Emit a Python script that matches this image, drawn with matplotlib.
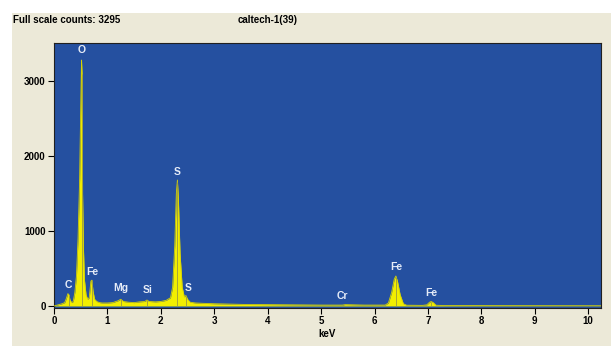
import matplotlib.pyplot as plt
from matplotlib.patches import Rectangle
import numpy as np

# EDS spectrum (keV, counts)
energy = [0.00, 0.05, 0.10, 0.15, 0.20, 0.23, 0.26, 0.28, 0.30, 0.33, 0.36, 0.39,
          0.42, 0.45, 0.48, 0.50, 0.515, 0.525, 0.535, 0.55, 0.57, 0.60, 0.63, 0.66,
          0.69, 0.71, 0.73, 0.76, 0.80, 0.85, 0.90, 1.00, 1.10, 1.20, 1.25, 1.30,
          1.40, 1.50, 1.60, 1.70, 1.74, 1.78, 1.90, 2.00, 2.10, 2.18, 2.22, 2.26,
          2.29, 2.31, 2.33, 2.36, 2.40, 2.44, 2.47, 2.50, 2.55, 2.65, 2.80, 3.00,
          3.30, 3.60, 4.00, 4.50, 5.00, 5.40, 5.45, 5.80, 6.20, 6.26, 6.32, 6.37,
          6.40, 6.43, 6.48, 6.54, 6.60, 6.90, 6.98, 7.03, 7.06, 7.10, 7.15, 7.30,
          8.00, 9.00, 10.24]
counts = [0, 10, 20, 30, 45, 100, 165, 150, 80, 45, 60, 180,
          400, 900, 1700, 2650, 3280, 3100, 1500, 800, 350, 150, 90, 110,
          330, 345, 200, 90, 60, 45, 40, 40, 45, 70, 90, 60,
          50, 45, 55, 60, 80, 60, 55, 60, 75, 110, 250, 800,
          1500, 1680, 1400, 700, 250, 120, 140, 90, 50, 40, 35, 30,
          25, 20, 18, 15, 12, 12, 18, 12, 12, 40, 180, 360,
          400, 330, 150, 30, 10, 8, 15, 50, 60, 45, 10, 6,
          5, 4, 3]

# element labels: name, label x (keV), label y (counts), line energy
labels = ["C", "O", "Fe", "Mg", "Si", "S", "S", "Cr", "Fe", "Fe"]
label_x = [0.27, 0.52, 0.71, 1.25, 1.76, 2.30, 2.51, 5.39, 6.40, 7.06]
label_y = [280, 3413, 453, 240, 213, 1787, 240, 133, 520, 173]
line_e = [0.277, 0.525, 0.705, 1.253, 1.740, 2.307, 2.464, 5.414, 6.403, 7.057]

font = ["Liberation Sans Narrow", "DejaVu Sans Condensed", "Liberation Sans", "DejaVu Sans"]
blue = "#2550a0"
beige = "#ece9d8"
yellow = "#f2ee00"

fig = plt.figure(figsize=(6.11, 3.46), dpi=100)
fig.patches.append(Rectangle((12 / 611, 0), 1, 1 - 13 / 346, transform=fig.transFigure,
                             facecolor=beige, edgecolor="none", zorder=-10))

ax = fig.add_axes([54 / 611, 1 - 308 / 346, 547 / 611, 265 / 346], zorder=5)
ax.set_facecolor(blue)
ax.fill_between(energy, 0, counts, color=yellow, linewidth=0, zorder=2)
ax.plot(energy, counts, color="#d8d400", linewidth=0.6, zorder=3)

# thin marker lines at the element positions
ax.vlines(line_e, 0, np.interp(line_e, energy, counts), color="#9a9a40",
          linewidth=0.6, zorder=4)

for name, lx, ly in zip(labels, label_x, label_y):
    ax.text(lx, ly, name, color="#e6ecf8", fontsize=7.5, fontweight="bold",
            family=font, ha="center", va="center", zorder=5)

ax.set_xlim(0, 10.24)
ax.set_ylim(-27, 3507)
ax.set_xticks(range(0, 11))
ax.set_yticks([0, 1000, 2000, 3000])
ax.tick_params(direction="out", length=4, width=0.8, labelsize=7, pad=2)
for lab in ax.get_xticklabels() + ax.get_yticklabels():
    lab.set_family(font)
    lab.set_fontweight("bold")
ax.set_xlabel("keV", fontsize=7, fontweight="bold", family=font, labelpad=2)
for sp in ax.spines.values():
    sp.set_color("#202020")
    sp.set_linewidth(0.8)

fig.text(12 / 611 + 0.002, 1 - 20 / 346, "Full scale counts: 3295", fontsize=7,
         fontweight="bold", family=font, ha="left", va="center")
fig.text(268 / 611, 1 - 20 / 346, "caltech-1(39)", fontsize=7,
         fontweight="bold", family=font, ha="center", va="center")

fig.savefig("out.png", dpi=100, facecolor="white")
